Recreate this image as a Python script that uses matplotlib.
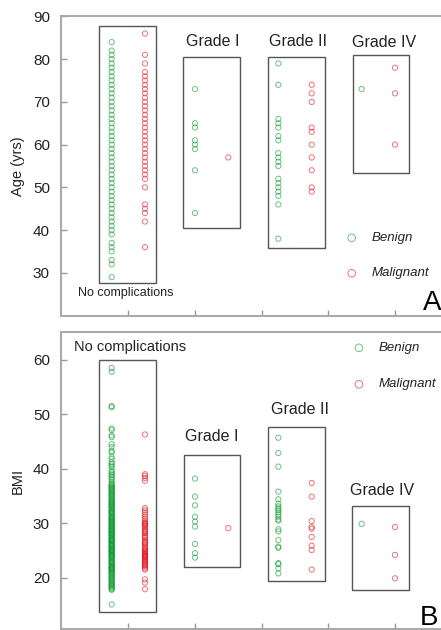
import numpy as np
import matplotlib.pyplot as plt
from matplotlib.patches import Rectangle

plt.rcParams['font.family'] = ['Liberation Sans', 'DejaVu Sans']

# groups shown left to right
groups = ['No complications', 'Grade I', 'Grade II', 'Grade IV']

# age (yrs)
age_benign = [
    [84, 82, 81, 80, 79, 78, 77, 76, 75, 74, 73, 72, 71, 70, 69, 68, 67, 66,
     65, 64, 63, 62, 61, 60, 59, 58, 57, 56, 55, 54, 53, 52, 51, 50, 49, 48,
     47, 46, 45, 44, 43, 42, 41, 40, 39, 37, 36, 35, 33, 32, 29],
    [73, 65, 64, 61, 60, 59, 54, 44],
    [79, 74, 66, 65, 64, 62, 61, 58, 57, 56, 55, 52, 51, 50, 49, 48, 46, 38],
    [73],
]
age_malignant = [
    [86, 81, 79, 77, 76, 75, 74, 73, 72, 71, 70, 69, 68, 67, 66, 65, 64, 63,
     62, 61, 60, 59, 58, 57, 56, 55, 54, 53, 52, 50, 46, 45, 44, 42, 36],
    [57],
    [74, 72, 70, 64, 63, 60, 57, 54, 50, 49],
    [78, 72, 60],
]

# BMI
bmi_benign = [
    [58.5, 57.8, 51.5, 51.3, 47.4, 47.1, 46.1, 45.8, 44.5, 44.0, 43.3, 43.0,
     42.2, 41.8, 41.2, 40.9, 40.3, 39.7, 39.4, 38.8, 38.5, 37.9, 37.5, 37.2,
     36.8, 36.5, 36.3, 36.1, 35.7, 35.5, 35.3, 35.0, 34.6, 34.4, 34.2, 33.9,
     33.7, 33.5, 33.3, 33.1, 32.8, 32.4, 32.2, 32.0, 31.9, 31.7, 31.3, 31.1,
     30.9, 30.6, 30.4, 30.2, 30.0, 29.8, 29.5, 29.3, 29.1, 28.9, 28.7, 28.4,
     28.2, 28.0, 27.8, 27.6, 27.3, 27.1, 26.9, 26.7, 26.5, 26.2, 26.0, 25.8,
     25.5, 25.4, 25.1, 25.0, 24.7, 24.4, 24.3, 24.0, 23.6, 23.2, 23.1, 22.9,
     22.5, 22.1, 22.0, 21.8, 21.6, 21.4, 21.0, 20.9, 20.7, 20.3, 19.9, 19.6,
     19.4, 19.2, 18.8, 18.5, 18.3, 18.1, 17.9, 15.1,
     40.6, 39.1, 38.2, 37.0, 36.6, 35.9, 35.2, 34.8, 34.0, 33.4, 32.6, 32.1,
     31.5, 30.8, 30.3, 29.7, 29.0, 28.6, 27.9, 27.4, 26.8, 26.3, 25.7, 25.2,
     24.6, 24.1, 23.8, 23.4, 22.7, 22.3, 21.9, 21.2, 20.5, 20.1, 19.8, 19.0,
     18.6, 17.8, 33.0, 31.0, 29.6, 28.3, 27.0, 25.9, 24.9, 23.9, 22.8, 21.5],
    [38.2, 34.9, 33.3, 31.2, 30.3, 29.4, 26.2, 24.5, 23.7],
    [45.7, 42.9, 40.4, 35.8, 34.4, 33.6, 33.1, 32.7, 32.4, 32.0, 31.6, 31.2,
     30.7, 30.5, 28.9, 28.5, 26.9, 25.7, 25.5, 22.7, 22.5, 21.7, 20.8],
    [29.9],
]
bmi_malignant = [
    [46.3, 39.0, 38.7, 38.3, 37.8, 32.8, 32.4, 32.0, 31.6, 31.2, 30.8, 30.4,
     30.0, 29.9, 29.7, 29.3, 28.9, 28.7, 28.5, 28.1, 27.7, 27.3, 26.9, 26.5,
     26.3, 26.1, 25.7, 25.3, 25.1, 24.9, 24.6, 24.4, 24.2, 24.0, 23.8, 23.7,
     23.5, 23.1, 22.9, 22.7, 22.4, 22.0, 21.7, 21.5, 19.7, 19.1, 17.9,
     30.1, 29.5, 28.3, 27.5, 26.7, 25.5, 24.8, 24.3, 23.9, 23.3, 22.5, 22.2],
    [29.1],
    [37.4, 34.9, 30.4, 29.3, 29.0, 27.5, 25.9, 25.1, 21.5],
    [29.3, 24.2, 19.9],
]

# column positions, malignant one step right of benign
benign_x = [0, 2.5, 5, 7.5]
tick_x = [0.5, 2.5, 4.5, 6.5, 8.5]

green = '#0a9a2a'
red = '#e0161e'

fig = plt.figure(figsize=(4.41, 6.30), dpi=100)
ax_a = fig.add_axes([0.1383, 0.4984, 0.8617, 0.4762])
ax_b = fig.add_axes([0.1383, 0.0016, 0.8617, 0.4714])


def style_axis(ax, yticks, ylim, ylabel):
    ax.set_xlim(-1.52, 9.88)
    ax.set_ylim(*ylim)
    ax.set_yticks(yticks)
    ax.set_xticks(tick_x)
    ax.set_xticklabels([])
    ax.tick_params(direction='in', length=4, width=1, color='#999999',
                   labelsize=11, pad=8, labelcolor='#222222')
    for side in ['left', 'top', 'bottom']:
        ax.spines[side].set_color('#aaaaaa')
        ax.spines[side].set_linewidth(1.5)
    ax.spines['right'].set_visible(False)
    ax.set_ylabel(ylabel, fontsize=10.5, color='#222222')
    ax.yaxis.set_label_coords(-0.095, 0.5)


def draw_points(ax, benign, malignant):
    for i in range(len(groups)):
        xb = np.full(len(benign[i]), benign_x[i])
        xm = np.full(len(malignant[i]), benign_x[i] + 1)
        ax.scatter(xb, benign[i], s=14, facecolors='none', edgecolors=green,
                   linewidths=0.7, alpha=0.6)
        ax.scatter(xm, malignant[i], s=14, facecolors='none', edgecolors=red,
                   linewidths=0.7, alpha=0.6)


def draw_boxes(ax, boxes):
    for x0, x1, y0, y1 in boxes:
        ax.add_patch(Rectangle((x0, y0), x1 - x0, y1 - y0, fill=False,
                               edgecolor='#555555', linewidth=1))


def draw_legend(ax, x, y1, y2):
    ax.scatter([x], [y1], s=30, facecolors='none', edgecolors=green, linewidths=0.7, alpha=0.6)
    ax.scatter([x], [y2], s=30, facecolors='none', edgecolors=red, linewidths=0.7, alpha=0.6)
    ax.text(x + 0.6, y1, 'Benign', style='italic', fontsize=9.5, va='center', color='#222222')
    ax.text(x + 0.6, y2, 'Malignant', style='italic', fontsize=9.5, va='center', color='#222222')


# panel A
style_axis(ax_a, [30, 40, 50, 60, 70, 80, 90], (19.9, 90.1), 'Age (yrs)')
draw_points(ax_a, age_benign, age_malignant)
draw_boxes(ax_a, [(-0.38, 1.33, 27.7, 87.7), (2.15, 3.85, 40.4, 80.6),
                  (4.7, 6.4, 35.7, 80.6), (7.23, 8.93, 53.4, 80.9)])
ax_a.text(0.42, 25.2, groups[0], fontsize=9, ha='center', va='center', color='#222222')
ax_a.text(3.04, 84.2, groups[1], fontsize=11.5, ha='center', va='center', color='#222222')
ax_a.text(5.6, 84.2, groups[2], fontsize=11.5, ha='center', va='center', color='#222222')
ax_a.text(8.18, 84.0, groups[3], fontsize=11.5, ha='center', va='center', color='#222222')
draw_legend(ax_a, 7.2, 38.2, 29.9)
ax_a.text(9.62, 23.0, 'A', fontsize=20, ha='center', va='center')

# panel B
style_axis(ax_b, [20, 30, 40, 50, 60], (10.6, 65.1), 'BMI')
draw_points(ax_b, bmi_benign, bmi_malignant)
draw_boxes(ax_b, [(-0.39, 1.32, 13.7, 60.0), (2.16, 3.86, 22.0, 42.6),
                  (4.7, 6.41, 19.4, 47.6), (7.22, 8.92, 17.8, 33.1)])
ax_b.text(-1.12, 62.4, groups[0], fontsize=10.5, ha='left', va='center', color='#222222')
ax_b.text(2.99, 45.9, groups[1], fontsize=11.5, ha='center', va='center', color='#222222')
ax_b.text(5.64, 50.9, groups[2], fontsize=11.5, ha='center', va='center', color='#222222')
ax_b.text(8.11, 36.0, groups[3], fontsize=11.5, ha='center', va='center', color='#222222')
draw_legend(ax_b, 7.42, 62.2, 55.5)
ax_b.text(9.52, 12.6, 'B', fontsize=20, ha='center', va='center')

fig.savefig('out.png', dpi=100)
